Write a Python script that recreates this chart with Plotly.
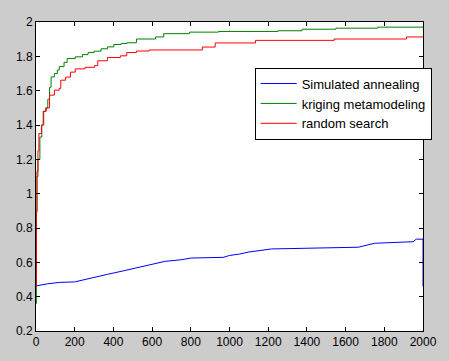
import plotly.graph_objects as go

# Simulated annealing (blue)
sa_x = [0, 2, 60, 120, 200, 250, 300, 369, 450, 519, 600, 668, 750, 801, 968, 1000, 1051, 1100, 1217, 1532, 1666, 1749, 1949, 1965, 2000, 2000]
sa_y = [0.46, 0.463, 0.475, 0.483, 0.486, 0.50, 0.515, 0.530, 0.55, 0.568, 0.59, 0.606, 0.615, 0.625, 0.629, 0.64, 0.648, 0.66, 0.678, 0.682, 0.688, 0.711, 0.720, 0.735, 0.735, 0.46]

# kriging metamodeling (green)
km_x = [0, 2, 5, 10, 20, 30, 37, 50, 61, 70, 78, 95, 110, 120, 145, 161, 203, 240, 269, 300, 336, 370, 402, 440, 469, 519, 618, 660, 793, 943, 1250, 1375, 1550, 1766, 2000]
km_y = [0.36, 0.9, 1.1, 1.2, 1.33, 1.40, 1.48, 1.50, 1.55, 1.62, 1.68, 1.70, 1.72, 1.74, 1.765, 1.787, 1.797, 1.81, 1.822, 1.83, 1.844, 1.855, 1.869, 1.875, 1.879, 1.901, 1.913, 1.932, 1.941, 1.945, 1.949, 1.958, 1.964, 1.970, 1.973]

# random search (red)
rs_x = [0, 2, 5, 10, 15, 28, 40, 53, 70, 95, 120, 128, 153, 178, 203, 253, 303, 319, 369, 436, 469, 519, 585, 860, 926, 1134, 1541, 1915, 2000]
rs_y = [0.46, 0.89, 1.13, 1.25, 1.35, 1.40, 1.48, 1.50, 1.574, 1.603, 1.613, 1.661, 1.679, 1.708, 1.727, 1.736, 1.746, 1.774, 1.793, 1.803, 1.822, 1.831, 1.837, 1.854, 1.878, 1.893, 1.901, 1.913, 1.913]

x_ticks = [0, 200, 400, 600, 800, 1000, 1200, 1400, 1600, 1800, 2000]
y_ticks = [0.2, 0.4, 0.6, 0.8, 1, 1.2, 1.4, 1.6, 1.8, 2]

fig = go.Figure()
fig.add_trace(go.Scatter(x=sa_x, y=sa_y, mode="lines", name="Simulated annealing",
                         line=dict(color="rgb(0,0,255)", width=1)))
fig.add_trace(go.Scatter(x=km_x, y=km_y, mode="lines", name="kriging metamodeling",
                         line=dict(color="rgb(0,128,0)", width=1, shape="hv")))
fig.add_trace(go.Scatter(x=rs_x, y=rs_y, mode="lines", name="random search",
                         line=dict(color="rgb(255,0,0)", width=1, shape="hv")))

axis_common = dict(showline=True, linecolor="black", linewidth=1, mirror="ticks",
                   ticks="inside", ticklen=4, tickcolor="black", showgrid=False,
                   zeroline=False, ticklabeloverflow="allow",
                   tickfont=dict(family="Liberation Sans, Arial", size=12, color="black"))

fig.update_layout(
    width=449, height=361,
    margin=dict(l=36, r=12, t=22, b=23),
    paper_bgcolor="#cccccc", plot_bgcolor="white",
    xaxis=dict(range=[0, 2000], tickvals=x_ticks, **axis_common),
    yaxis=dict(range=[0.2, 2], tickvals=y_ticks, **axis_common),
    legend=dict(x=0.565, y=0.736, xanchor="left", yanchor="middle",
                bgcolor="white", bordercolor="black", borderwidth=1,
                font=dict(family="Liberation Sans, Arial", size=13, color="black"),
                tracegroupgap=0, itemwidth=36),
    showlegend=True,
)

fig.write_html("out.html")
